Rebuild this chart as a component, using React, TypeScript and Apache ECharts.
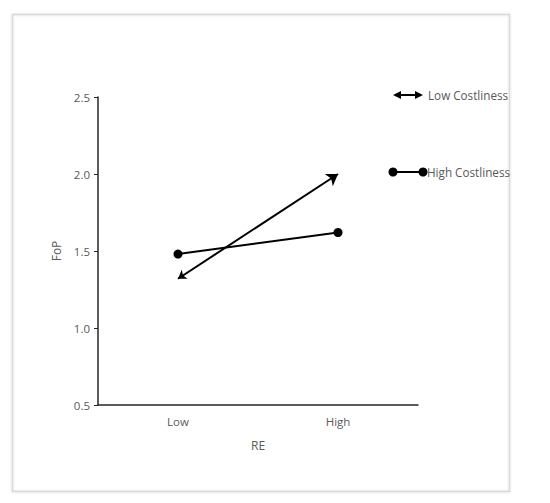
import React, { useEffect, useRef } from "react";
import * as echarts from "echarts";

const categories = ["Low", "High"];
const lowCostliness = [1.32, 2.0];
const highCostliness = [1.48, 1.62];
const yTicks = [0.5, 1.0, 1.5, 2.0, 2.5];
const seriesNames = ["Low Costliness", "High Costliness"];

const FONT = "'Open Sans', sans-serif";
const TXT = "#595959";

export default function App() {
  const ref = useRef<HTMLDivElement>(null);
  useEffect(() => {
    document.body.style.margin = "0";
    const chart = echarts.init(ref.current!, null, { renderer: "svg" });
    const lx = 393;
    chart.setOption({
      animation: false,
      backgroundColor: "#fff",
      textStyle: { fontFamily: FONT },
      grid: { left: 98, right: 132, top: 97, bottom: 98 },
      xAxis: {
        type: "category",
        data: categories,
        boundaryGap: true,
        name: "RE",
        nameLocation: "middle",
        nameGap: 34,
        nameTextStyle: { color: TXT, fontSize: 12, fontFamily: FONT },
        axisLine: { lineStyle: { color: "#262626", width: 1.5 } },
        axisTick: { show: false },
        axisLabel: { color: TXT, fontSize: 11.5, margin: 10, fontFamily: FONT },
      },
      yAxis: {
        type: "value",
        min: yTicks[0],
        max: yTicks[yTicks.length - 1],
        interval: 0.5,
        name: "FoP",
        nameLocation: "middle",
        nameGap: 29,
        nameTextStyle: { color: TXT, fontSize: 12, fontFamily: FONT },
        splitLine: { show: false },
        axisLine: { show: true, lineStyle: { color: "#262626", width: 1.5 } },
        axisTick: { show: true, length: 4, lineStyle: { color: "#262626" } },
        axisLabel: {
          color: TXT,
          fontSize: 11.5,
          margin: 8,
          fontFamily: FONT,
          formatter: (v: number) => v.toFixed(1),
        },
      },
      series: [
        {
          name: seriesNames[0],
          type: "lines",
          coordinateSystem: "cartesian2d",
          symbol: ["arrow", "arrow"],
          symbolSize: [8, 11],
          lineStyle: { color: "#000", width: 2, opacity: 1 },
          data: [
            {
              coords: [
                [0, lowCostliness[0]],
                [1, lowCostliness[1]],
              ],
            },
          ],
        },
        {
          name: seriesNames[1],
          type: "line",
          data: highCostliness,
          symbol: "circle",
          symbolSize: 9,
          showSymbol: true,
          itemStyle: { color: "#000" },
          lineStyle: { color: "#000", width: 2 },
        },
      ],
      graphic: [
        {
          type: "rect",
          shape: { x: 12.5, y: 14.5, width: 497, height: 477 },
          style: {
            fill: "none",
            stroke: "#d9d9d9",
            lineWidth: 1.5,
            shadowBlur: 2,
            shadowColor: "rgba(0,0,0,0.15)",
          },
          silent: true,
        },
        {
          type: "line",
          shape: { x1: lx + 5, y1: 95, x2: lx + 25, y2: 95 },
          style: { stroke: "#000", lineWidth: 2 },
        },
        {
          type: "polygon",
          shape: { points: [[lx, 95], [lx + 8, 91], [lx + 8, 99]] },
          style: { fill: "#000" },
        },
        {
          type: "polygon",
          shape: { points: [[lx + 30, 95], [lx + 22, 91], [lx + 22, 99]] },
          style: { fill: "#000" },
        },
        {
          type: "text",
          x: 428,
          y: 95,
          style: {
            text: seriesNames[0],
            fill: TXT,
            font: `11.7px ${FONT}`,
            verticalAlign: "middle",
          },
        },
        {
          type: "line",
          shape: { x1: lx, y1: 172, x2: lx + 30, y2: 172 },
          style: { stroke: "#000", lineWidth: 2 },
        },
        { type: "circle", shape: { cx: lx, cy: 172, r: 4.5 }, style: { fill: "#000" } },
        { type: "circle", shape: { cx: lx + 30, cy: 172, r: 4.5 }, style: { fill: "#000" } },
        {
          type: "text",
          x: 427,
          y: 172,
          style: {
            text: seriesNames[1],
            fill: TXT,
            font: `11.7px ${FONT}`,
            verticalAlign: "middle",
          },
        },
      ],
    });
    return () => chart.dispose();
  }, []);
  return <div ref={ref} style={{ width: 550, height: 503 }} />;
}
